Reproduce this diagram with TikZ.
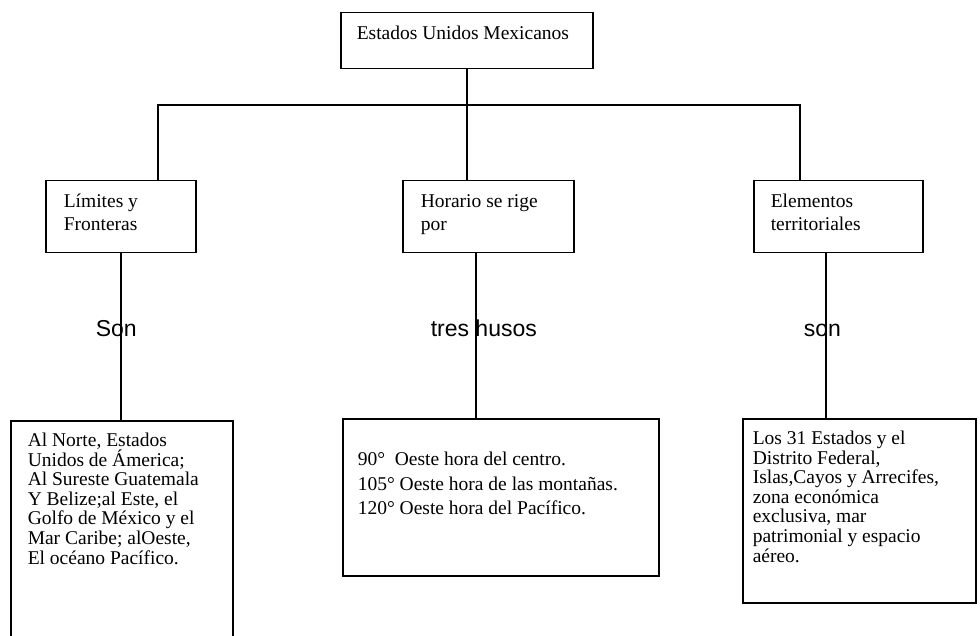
\documentclass[tikz,border=0pt]{standalone}
\usepackage{fontspec}
\setmainfont{Liberation Serif}
\newfontfamily\arialfont{Liberation Sans}

\begin{document}
\begin{tikzpicture}[x=1pt,y=-1pt,line width=1.5pt,
        caja/.style={draw,anchor=north west,inner xsep=17pt,inner ysep=12pt,
            font=\fontsize{19.5}{19.6}\selectfont},
        enlace/.style={anchor=base west,inner sep=0pt,
            font=\arialfont\fontsize{23}{26}\selectfont}]
    \useasboundingbox (0,0) rectangle (980,636);
    \clip (0,0) rectangle (980,636);

    % cuadros
    \node[caja,inner xsep=13pt,inner ysep=11.6pt,font=\fontsize{19.5}{22}\selectfont] (estados) at (340,12)
        {\parbox[t][32.8pt][t]{226pt}{\raggedright\strut\hspace{3pt}Estados Unidos Mexicanos}};

    \node[caja,inner xsep=18pt,inner ysep=10.4pt,font=\fontsize{19.5}{23}\selectfont] (limites) at (45,180)
        {\parbox[t][51.2pt][t]{114pt}{\raggedright\strut Límites y\\Fronteras}};
    \node[caja,inner xsep=18pt,inner ysep=10.4pt,font=\fontsize{19.5}{23}\selectfont] (horario) at (402,180)
        {\parbox[t][51.2pt][t]{135pt}{\raggedright\strut Horario se rige\\por}};
    \node[caja,inner xsep=17pt,inner ysep=10.4pt,font=\fontsize{19.5}{23}\selectfont] (elementos) at (753,180)
        {\parbox[t][51.2pt][t]{135pt}{\raggedright\strut Elementos\\territoriales}};

    \node[caja] (norte) at (10,420)
        {\parbox[t][196pt][t]{188pt}{\lineskiplimit=-20pt\relax\raggedright\strut Al Norte, Estados\\Unidos de Ámerica;\\Al Sureste Guatemala\\Y Belize;al Este, el\\Golfo de México y el\\Mar Caribe; alOeste,\\El océano Pacífico.}};
    \node[caja,inner xsep=15pt,inner ysep=30pt,font=\fontsize{19.5}{24.5}\selectfont] (husos) at (342,418)
        {\parbox[t][97pt][t]{286pt}{\raggedright\strut 90°~ Oeste hora del centro.\\105° Oeste hora de las montañas.\\120° Oeste hora del Pacífico.}};
    \node[caja,inner xsep=10pt] (territorio) at (742,418)
        {\parbox[t][160pt][t]{213pt}{\lineskiplimit=-20pt\relax\raggedright\strut Los 31 Estados y el\\Distrito Federal,\\Islas,Cayos y Arrecifes,\\zona económica\\exclusiva, mar\\patrimonial y espacio\\aéreo.}};

    % lineas
    \coordinate (busL) at (158,105);
    \coordinate (busR) at (800,105);
    \coordinate (bajaC) at (476,0);
    \coordinate (bajaD) at (826,0);
    \draw (estados.south) -- (estados.south |- horario.north);
    \draw (limites.north -| busL) -- (busL) -- (busR) -- (elementos.north -| busR);
    \draw (limites.south) -- (limites.south |- norte.north);
    \draw (horario.south -| bajaC) -- (husos.north -| bajaC);
    \draw (elementos.south -| bajaD) -- (territorio.north -| bajaD);

    \node[enlace] (son1) at (95,337) {Son};
    \node[enlace] (tres) at (430,337) {tres husos};
    \node[enlace] (son2) at (803,337) {son};
\end{tikzpicture}
\end{document}
